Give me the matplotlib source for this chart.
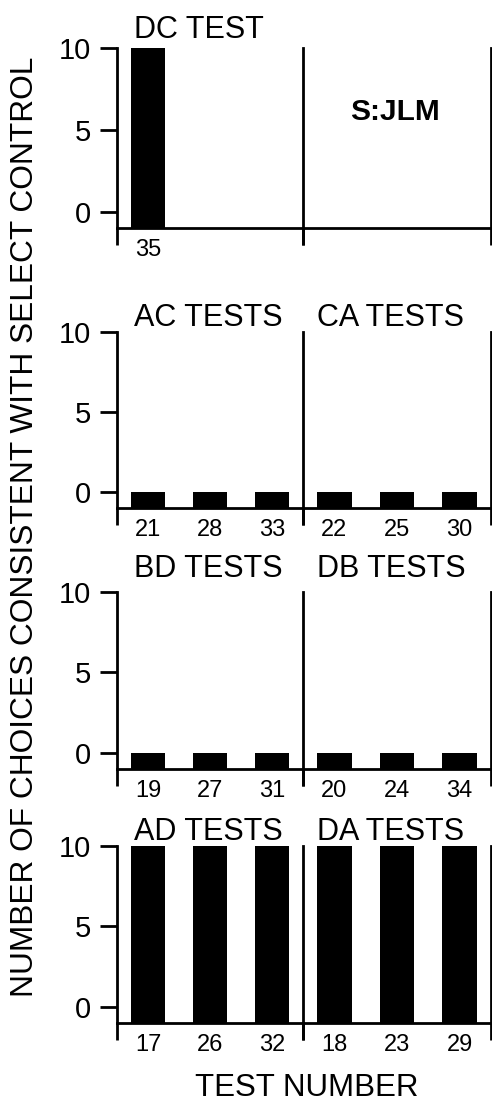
import matplotlib
matplotlib.use("Agg")
import matplotlib.pyplot as plt
import numpy as np

plt.rcParams['font.family'] = ['Liberation Sans', 'DejaVu Sans']

# ---- data ----
dc_labels = ['35']
dc_values = [10]
ac_labels = ['21', '28', '33']
ac_values = [0, 0, 0]
ca_labels = ['22', '25', '30']
ca_values = [0, 0, 0]
bd_labels = ['19', '27', '31']
bd_values = [0, 0, 0]
db_labels = ['20', '24', '34']
db_values = [0, 0, 0]
ad_labels = ['17', '26', '32']
ad_values = [10, 10, 10]
da_labels = ['18', '23', '29']
da_values = [10, 10, 10]

titles = [("DC TEST", None), ("AC TESTS", "CA TESTS"),
          ("BD TESTS", "DB TESTS"), ("AD TESTS", "DA TESTS")]
panels = [((dc_labels, dc_values), None),
          ((ac_labels, ac_values), (ca_labels, ca_values)),
          ((bd_labels, bd_values), (db_labels, db_values)),
          ((ad_labels, ad_values), (da_labels, da_values))]
yticks = [0, 5, 10]

W, H = 492, 1102
fig = plt.figure(figsize=(W / 100, H / 100), dpi=100)

def fx(px):
    return px / W

def fy(py):
    return 1 - py / H

rows = [(48, 228), (332, 508), (592, 769), (846, 1023)]
title_base = [38, 326, 577, 840]
x_left, x_mid, x_right = 117, 303, 491
LW = 2.0
BASE = -1

tick_font = dict(family=['Liberation Sans Narrow', 'Liberation Sans'], size=17)

for r, ((top, base), (tl, tr), (pl, pr)) in enumerate(zip(rows, titles, panels)):
    for side, (x0, x1, data) in enumerate([(x_left, x_mid, pl), (x_mid, x_right, pr)]):
        ax = fig.add_axes([fx(x0), fy(base), (x1 - x0) / W, (base - top) / H])
        ax.set_xlim(0, 3)
        ax.set_ylim(BASE, 10)
        ax.spines['top'].set_visible(False)
        ax.spines['right'].set_visible(side == 1)
        for s in ['left', 'right', 'bottom']:
            ax.spines[s].set_linewidth(LW)
        if data is not None:
            labels, values = data
            pos = np.arange(len(labels)) + 0.5
            ax.bar(pos, np.array(values) - BASE, bottom=BASE, width=0.55,
                   color='black', edgecolor='black', linewidth=0)
            ax.set_xticks(pos)
            ax.set_xticklabels(labels, fontdict=tick_font)
        else:
            ax.set_xticks([])
        ax.set_xticks([0, 3], minor=True)
        ax.tick_params(axis='x', which='major', length=0, pad=8)
        ax.tick_params(axis='x', which='minor', length=12, width=LW, direction='out')
        if side == 0:
            ax.set_yticks(yticks)
            ax.set_yticklabels([str(v) for v in yticks], fontsize=21)
            ax.tick_params(axis='y', length=12, width=LW, pad=7, direction='out')
        else:
            ax.set_yticks([])
        ax.patch.set_alpha(0)
    fig.text(fx(134), fy(title_base[r]), tl, fontsize=22, ha='left', va='baseline')
    if tr is not None:
        fig.text(fx(317), fy(title_base[r]), tr, fontsize=22, ha='left', va='baseline')

fig.text(fx(395), fy(112), "S:JLM", fontsize=21.5, fontweight='bold',
         ha='center', va='center')
fig.text(fx(25), fy(527), "NUMBER OF CHOICES CONSISTENT WITH SELECT CONTROL",
         fontsize=22.8, rotation=90, ha='center', va='center')
fig.text(fx(307), fy(1096), "TEST NUMBER", fontsize=22.5, ha='center', va='baseline')

fig.savefig("out.png", dpi=100)
